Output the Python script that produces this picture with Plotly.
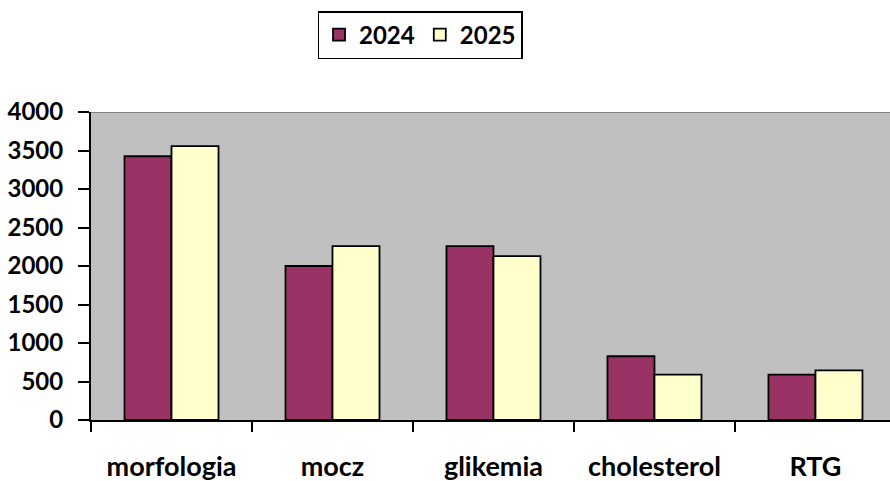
import plotly.graph_objects as go

categories = ["morfologia", "mocz", "glikemia", "cholesterol", "RTG"]
series_2024 = [3425, 2000, 2257, 828, 590]
series_2025 = [3558, 2257, 2128, 590, 645]
y_ticks = [0, 500, 1000, 1500, 2000, 2500, 3000, 3500, 4000]

FONT = "Lato"

fig = go.Figure()
fig.add_trace(go.Bar(name="2024", x=categories, y=series_2024,
                     marker=dict(color="#993366", line=dict(color="black", width=1.8))))
fig.add_trace(go.Bar(name="2025", x=categories, y=series_2025,
                     marker=dict(color="#FFFFCC", line=dict(color="black", width=1.8))))

fig.update_layout(
    width=890, height=481,
    margin=dict(l=91, r=0, t=112, b=61),
    paper_bgcolor="white",
    plot_bgcolor="#C0C0C0",
    barmode="group",
    bargap=0.416,
    bargroupgap=0,
    font=dict(family=FONT, color="black"),
    legend=dict(
        orientation="h",
        x=0.4118, xanchor="center",
        y=1.25, yanchor="middle",
        bordercolor="black", borderwidth=1.5,
        bgcolor="white",
        font=dict(family=FONT, size=24, color="black", weight="bold"),
    ),
    xaxis=dict(
        range=[-0.5, 4.463],
        showline=True, linecolor="black", linewidth=2,
        ticks="outside", tickson="boundaries", ticklen=10, tickwidth=1.5, tickcolor="black",
        tickfont=dict(family=FONT, size=27, color="black", weight="bold"),
        ticklabelstandoff=22,
        showgrid=False, zeroline=False,
    ),
    yaxis=dict(
        range=[0, 4000],
        tickvals=y_ticks,
        showline=True, linecolor="black", linewidth=2,
        ticks="outside", ticklen=11, tickwidth=1.5, tickcolor="black",
        tickfont=dict(family=FONT, size=24, color="black", weight="bold"),
        ticklabelstandoff=10,
        showgrid=False, zeroline=False,
    ),
    shapes=[dict(type="line", xref="paper", yref="y", x0=0, x1=1, y0=4000, y1=4000,
                 line=dict(color="#808080", width=2))],
)

fig.write_html(
    "out.html",
    config={"displayModeBar": False},
    post_script="document.body.style.margin='0';document.body.style.overflow='hidden';",
)
